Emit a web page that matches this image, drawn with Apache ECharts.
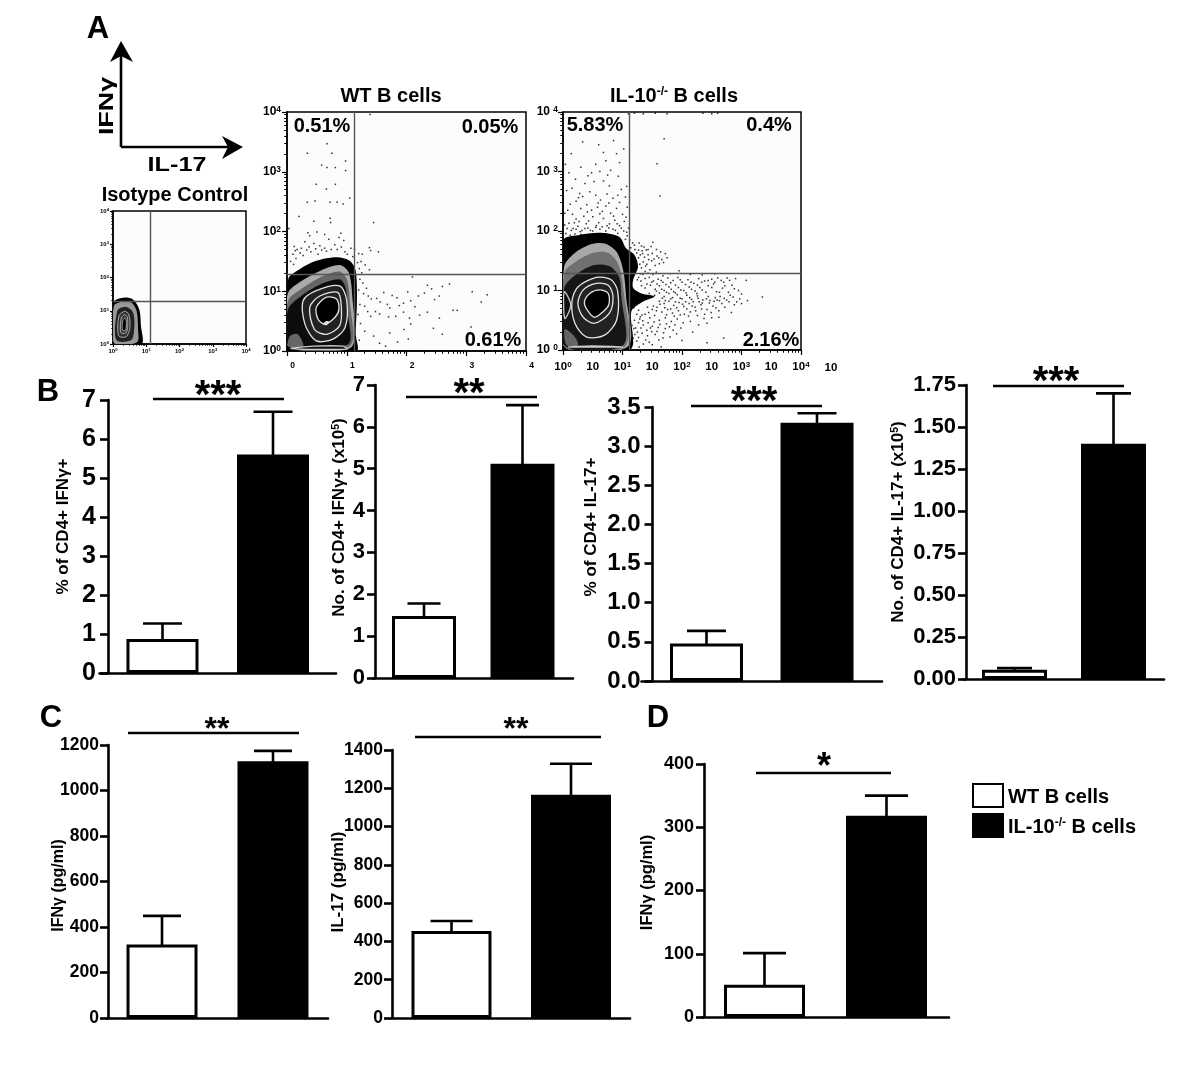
<!DOCTYPE html>
<html><head><meta charset="utf-8">
<style>html,body{margin:0;padding:0;background:#fff}#c{width:1200px;height:1066px}</style>
<script src="https://cdn.jsdelivr.net/npm/echarts@6/dist/echarts.min.js"></script>
</head><body><div id="c"></div>
<script>
// ---------- DATA ----------
const groups = ['WT B cells', 'IL-10-/- B cells'];
const b1Means = [0.87, 5.6],   b1Tops = [1.27, 6.7];
const b2Means = [1.48, 5.12],  b2Tops = [1.78, 6.52];
const b3Means = [0.48, 3.3],   b3Tops = [0.64, 3.42];
const b4Means = [0.055, 1.40], b4Tops = [0.065, 1.70];
const c1Means = [323, 1129],   c1Tops = [449, 1174];
const c2Means = [455, 1166],   c2Tops = [507, 1328];
const dMeans  = [51, 318],     dTops  = [101, 350];

// flow plots, values are log10 (decades) of each channel
const wtGate = [1.12, 1.28], isoGate = [1.11, 1.3], koGate = [1.11, 1.29];
const wtDots = [[1.39,3.96],[.67,3.47],[.34,3.31],[.75,3.31],[.98,3.18],[.58,3.11],[.67,3.07],[.81,3.07],[.98,3.02],[.49,2.79],[.81,2.79],[.66,2.71],[.34,2.49],[.47,2.51],[.72,2.49],[.84,2.49],[.94,2.46],[1.05,2.56],[.2,2.25],[.45,2.17],[.72,2.22],[.73,2.15],[1.45,2.15],[.03,2.05],[.35,1.98],[.38,1.93],[.5,1.99],[.63,1.95],[.7,1.87],[.87,1.9],[.9,1.97],[.95,1.85],[.3,1.83],[.45,1.8],[.55,1.76],[.63,1.72],[.17,1.7],[.12,1.75],[.22,1.64],[.27,1.6],[.4,1.66],[.52,1.62],[.8,1.78],[.84,1.7],[.97,1.66],[1.07,1.72],[.06,1.5],[.11,1.45],[.15,1.55],[1.13,1.7],[1.2,1.63],[1.26,1.62],[1.38,1.73],[1.4,1.68],[1.53,1.66],[1.18,1.48],[1.24,1.5],[1.31,1.44],[1.38,1.36],[1.25,1.31],[1.22,1.2],[1.27,1.14],[1.33,1.05],[1.28,.96],[1.36,.92],[1.41,.87],[1.5,.88],[1.56,.82],[1.62,.98],[1.68,.78],[1.72,.72],[1.76,.93],[1.84,.89],[1.88,.76],[1.95,.8],[2.02,.99],[2.07,.84],[2.14,.74],[2.2,.92],[2.3,.97],[2.35,1.1],[2.42,1.04],[2.47,.86],[2.55,.92],[2.6,1.08],[2.72,1.12],[2.78,.68],[2.85,.68],[3.1,.99],[3.25,.82],[3.35,.94],[2.1,1.24],[1.3,.75],[1.35,.66],[1.4,.58],[1.48,.66],[1.55,.62],[1.7,.57],[1.82,.58],[1.95,.65],[2.05,.55],[2.22,.6],[2.35,.65],[2.55,.55],[2.07,.45],[1.3,.33],[1.45,.25],[1.72,.3],[1.96,.36],[2.03,.2],[3.08,.4],[1.55,.13],[1.65,.08],[1.85,.15],[2.45,.38],[2.6,.28],[.1,1.62],[.14,1.68],[.24,1.72],[.33,1.69],[.37,1.74],[.48,1.71],[.58,1.69],[.66,1.67],[.74,1.7],[.91,1.74],[1.01,1.62],[1.1,1.58],[1.21,1.38],[1.2,1.02],[1.22,.78],[1.19,.61],[1.23,.46],[1.21,.18]];
const koDots = [[1.1,3.97],[1.2,3.98],[1.35,3.97],[1.55,3.98],[1.75,3.97],[2.35,3.98],[2.5,3.97],[2.6,3.98],[1.7,3.55],[1.58,3.13],[1.63,2.59],[.33,3.5],[.6,3.45],[.68,3.32],[.85,3.52],[.9,3.3],[.14,3.3],[.55,3.12],[.72,3.18],[.95,3.15],[1.02,3.38],[.04,3.12],[.1,2.98],[.3,3.07],[.48,2.98],[.62,3.0],[.8,3.02],[.93,2.92],[.21,2.87],[.37,2.8],[.52,2.83],[.68,2.84],[.78,2.76],[.98,2.7],[1.07,2.75],[.06,2.68],[.15,2.72],[.28,2.63],[.33,2.58],[.45,2.66],[.55,2.6],[.63,2.52],[.74,2.62],[.84,2.55],[.95,2.48],[1.05,2.57],[.12,2.45],[.22,2.5],[.3,2.38],[.4,2.44],[.48,2.35],[.58,2.4],[.66,2.33],[.72,2.42],[.8,2.3],[.9,2.38],[1.0,2.28],[1.08,2.4],[.03,2.3],[.08,2.35],[.16,2.28],[.22,2.2],[.35,2.25],[.43,2.17],[.5,2.24],[.6,2.14],[.68,2.21],[.78,2.12],[.87,2.18],[.95,2.09],[1.03,2.16],[1.1,2.05],[.03,2.1],[.1,2.13],[.17,2.04],[.25,2.08],[.32,2.01],[.42,2.05],[.5,2.0],[.62,2.03],[.72,2.0],[.84,2.03],[.92,1.96],[1.02,2.0],[.05,1.96],[.12,1.93],[.2,1.95],[.3,1.94],[1.08,1.92],[1.12,1.85],[1.05,1.86],[1.17,1.8],[1.14,1.72],[1.2,1.76],[1.28,1.8],[1.36,1.73],[1.27,1.68],[1.33,1.67],[1.4,1.68],[1.48,1.74],[1.57,1.69],[1.64,1.65],[1.72,1.62],[1.75,1.55],[1.66,1.52],[1.58,1.58],[1.5,1.62],[1.43,1.6],[1.37,1.56],[1.3,1.6],[1.35,1.48],[1.41,1.44],[1.49,1.5],[1.55,1.42],[1.62,1.45],[1.32,1.38],[1.38,1.32],[1.46,1.35],[1.3,1.28],[1.25,1.18],[1.31,1.16],[1.38,1.2],[1.45,1.22],[1.52,1.16],[1.6,1.19],[1.68,1.14],[1.76,1.21],[1.85,1.17],[1.93,1.22],[2.0,1.14],[2.1,1.18],[2.2,1.12],[2.28,1.2],[2.38,1.16],[2.5,1.19],[2.6,1.21],[2.7,1.14],[2.8,1.17],[2.9,1.2],[3.08,1.17],[1.32,1.08],[1.38,1.04],[1.47,1.09],[1.55,1.02],[1.62,1.08],[1.7,1.0],[1.78,1.06],[1.86,.98],[1.94,1.05],[2.03,1],[2.12,1.06],[2.22,.99],[2.3,1.05],[2.4,.97],[2.5,1.05],[2.58,.98],[2.68,1.04],[2.78,.97],[2.88,1.03],[3.0,.94],[1.45,.95],[1.54,.92],[1.62,.96],[1.7,.9],[1.78,.95],[1.84,.88],[1.92,.93],[2,.86],[2.08,.92],[2.16,.85],[2.26,.91],[2.35,.84],[2.44,.9],[2.54,.82],[2.64,.9],[2.75,.84],[2.86,.89],[2.97,.86],[3.1,.83],[3.35,.89],[1.62,.82],[1.7,.78],[1.78,.82],[1.86,.75],[1.95,.8],[2.03,.73],[2.12,.78],[2.22,.72],[2.32,.76],[2.42,.68],[2.52,.74],[2.62,.66],[2.72,.72],[2.88,.76],[3.0,.78],[1.42,.72],[1.5,.68],[1.58,.72],[1.66,.64],[1.76,.68],[1.84,.62],[1.94,.66],[2.04,.6],[2.14,.64],[2.26,.58],[2.38,.6],[2.5,.54],[2.62,.55],[1.24,.6],[1.3,.56],[1.38,.6],[1.46,.54],[1.54,.58],[1.62,.5],[1.72,.54],[1.82,.48],[1.92,.52],[2.02,.46],[2.14,.48],[2.28,.42],[2.42,.45],[1.2,.5],[1.27,.46],[1.35,.42],[1.43,.46],[1.5,.4],[1.6,.38],[1.72,.36],[1.85,.33],[1.98,.37],[2.18,.3],[1.19,.36],[1.25,.3],[1.33,.28],[1.42,.24],[1.55,.26],[1.68,.2],[1.8,.22],[2.0,.16],[2.42,.12],[2.7,.2],[1.18,.2],[1.24,.15],[1.35,.1],[1.28,.05],[1.5,.09],[1.65,.05]];
const koDotsDense = [[1.16,.41],[1.22,.37],[1.29,.52],[1.34,.49],[1.41,.33],[1.47,.37],[1.53,.47],[1.58,.31],[1.63,.43],[1.69,.29],[1.16,.13],[1.21,.26],[1.27,.21],[1.31,.37],[1.39,.17],[1.45,.13],[1.49,.31],[1.61,.17],[1.74,.44],[1.79,.39],[1.88,.42],[1.91,.27],[1.19,.71],[1.27,.67],[1.33,.59],[1.44,.63],[1.52,.74],[1.57,.66],[1.63,.77],[1.71,.71],[1.74,.59],[1.81,.69],[1.87,.57],[1.91,.71],[1.97,.59],[2.01,.77],[2.08,.69],[2.11,.57],[2.17,.74],[2.23,.66],[2.29,.81],[2.33,.69],[2.37,.53],[2.46,.79],[2.49,.63],[2.57,.71],[2.59,.84],[2.67,.78],[2.79,.81],[2.83,.63],[1.67,.87],[1.72,.83],[1.81,.86],[1.89,.81],[1.97,.87],[2.06,.81],[2.13,.88],[2.19,.81],[2.27,.87],[2.34,.79],[2.41,.86],[2.47,.83],[2.56,.88],[2.63,.83],[2.71,.87],[2.81,.92],[2.92,.81],[1.57,.99],[1.66,1.02],[1.74,.97],[1.82,1.02],[1.89,.96],[1.98,1.01],[2.07,.96],[2.16,1.02],[2.25,.95],[2.34,1.01],[2.44,1.08],[2.53,1.11],[2.63,.97],[2.72,1.08],[2.84,1.09],[2.95,1.0],[1.41,1.11],[1.49,1.14],[1.58,1.11],[1.65,1.17],[1.73,1.1],[1.81,1.13],[1.89,1.09],[1.97,1.18],[2.06,1.1],[2.15,1.14],[2.26,1.09],[2.33,1.14],[2.44,1.17],[2.55,1.14],[2.66,1.17],[2.76,1.21],[1.27,1.22],[1.34,1.27],[1.43,1.29],[1.51,1.27],[1.57,1.31],[1.68,1.25],[1.8,1.28],[1.95,1.33],[2.14,1.27],[2.34,1.26],[2.55,1.28],[1.24,1.38],[1.29,1.44],[1.39,1.41],[1.44,1.52],[1.53,1.53],[1.61,1.55],[1.69,1.47],[1.27,1.55],[1.34,1.62],[1.43,1.69],[1.51,1.81],[1.24,1.63],[1.21,1.69],[1.32,1.75],[.07,2.04],[.14,2.01],[.22,2.03],[.29,1.99],[.37,2.04],[.46,2.01],[.55,2.06],[.66,2.07],[.77,2.05],[.88,2.01],[.98,2.05],[1.07,1.98],[.19,2.14],[.27,2.16],[.39,2.12],[.56,2.09],[.74,2.09],[.91,2.12],[1.06,2.23],[.41,2.32],[.62,2.29],[.85,2.25],[.26,2.56],[.59,2.47],[.77,2.47],[.92,2.6],[.42,2.93],[.75,2.94]];

// contour layers: outline points, then a fill and a ring colour for each layer
const wtContours = [
 [[.02,0],[.02,1.2],[.21,1.37],[.49,1.51],[.83,1.57],[1.05,1.51],[1.15,1.34],[1.17,.84],[1.15,.28],[1.16,0]],
 [[.02,.73],[.02,.98],[.21,1.15],[.55,1.34],[.88,1.44],[1.03,1.32],[1.09,.95],[1.09,.08],[.49,.08]],
 [[.02,.84],[.27,1.06],[.57,1.24],[.88,1.33],[1,1.2],[1.05,.84],[1.05,.08],[.02,.08]],
 [[.02,.7],[.24,.92],[.57,1.12],[.88,1.2],[.98,1.06],[1.02,.62],[1.02,.11],[.02,.11]],
 [[.02,.08],[.05,.25],[.18,.28],[.27,.08]],
 [[.07,.04],[.44,.08],[.94,.08],[1,.03]],
 [[.27,.84],[.49,1.01],[.88,1.09],[1,.84],[.97,.39],[.77,.2],[.49,.17],[.3,.45]],
 [[.38,.73],[.55,.92],[.85,.98],[.91,.73],[.88,.42],[.66,.28],[.46,.36]],
 [[.49,.73],[.66,.9],[.83,.87],[.87,.7],[.8,.56],[.63,.45],[.52,.53]],
 [[.6,.45],[.65,.5],[.71,.49],[.66,.43]]
];
const wtFills   = ['#000','#aaa','#666','#0c0c0c','#666','#111','#222','#222','#000','#ddd'];
const wtStrokes = [null,null,null,null,null,'#ccc','#e4e4e4','#e4e4e4','#e4e4e4',null];
const isoContours = [
 [[0,0],[0,1.24],[.3,1.39],[.6,1.34],[.79,1.04],[.84,.54],[.86,0]],
 [[.03,.04],[.03,1.15],[.3,1.28],[.55,1.25],[.71,1],[.75,.5],[.72,.05]],
 [[.1,.12],[.13,1],[.35,1.12],[.52,1.05],[.62,.9],[.64,.5],[.55,.12]],
 [[.17,.25],[.18,.85],[.35,.98],[.47,.9],[.51,.5],[.4,.22]],
 [[.23,.35],[.25,.78],[.35,.88],[.43,.8],[.44,.5],[.38,.33]],
 [[.28,.42],[.3,.72],[.37,.78],[.4,.68],[.38,.42]]
];
const isoFills   = ['#000','#999','#222','#333','#333','#000'];
const isoStrokes = [null,null,null,'#ddd','#ddd','#ddd'];
const koContours = [
 [[.02,.01],[.01,1.85],[.25,1.93],[.64,1.97],[.95,1.9],[1.06,1.71],[1.2,1.6],[1.26,1.4],[1.18,1.18],[1.18,1.04],[1.32,.95],[1.54,.9],[1.34,.81],[1.15,.65],[1.13,.01]],
 [[.02,1.4],[.2,1.63],[.48,1.78],[.7,1.79],[.9,1.65],[1.01,1.35],[1.06,.9],[1.09,.06],[.02,.06]],
 [[.02,1.29],[.25,1.51],[.53,1.64],[.76,1.63],[.92,1.46],[1.01,1.06],[1.04,.06],[.02,.06]],
 [[.02,1.04],[.25,1.29],[.53,1.43],[.78,1.41],[.94,1.23],[.98,.9],[1.01,.08],[.02,.08]],
 [[.06,.08],[.03,.35],[.2,.22],[.25,.08]],
 [[.1,.05],[.5,.07],[1,.05]],
 [[.02,.98],[.13,.76],[.03,.53]],
 [[.15,.81],[.25,1.06],[.56,1.22],[.81,1.18],[.92,.98],[.9,.5],[.7,.25],[.39,.22],[.2,.45]],
 [[.25,.78],[.34,1.01],[.56,1.12],[.76,1.09],[.84,.9],[.78,.62],[.53,.45],[.34,.55]],
 [[.36,.81],[.45,.95],[.62,1.01],[.76,.95],[.77,.76],[.67,.64],[.53,.55],[.41,.67]]
];
const koFills   = ['#000','#a8a8a8','#707070','#161616','#666','#111','#111','#222','#222','#000'];
const koStrokes = [null,null,null,null,null,'#ccc','#ccc','#e4e4e4','#e4e4e4','#e4e4e4'];

const koXLabelValues = [0,.5,1,1.5,2,2.5,3,3.5,4];
const minorDecades = [.301,.477,.602,.699,.778,.845,.903,.954];

// ---------- LAYOUT ----------
const FONT = '"Liberation Sans", Arial, sans-serif';
const minors = [0,1,2,3].flatMap(d => minorDecades.map(m => d + m));

const grids = [], xAxes = [], yAxes = [], series = [];
const supRich = size => ({ s: { fontSize: size, fontWeight: 'bold', fontFamily: FONT, verticalAlign: 'top', padding:[0,0,size*0.45,0] } });

function flowPanel(o) {
  const g = grids.length;
  grids.push({ left:o.left, top:o.top, width:o.size, height:o.size, show:true, backgroundColor:'#fcfcfc', borderColor:'#000', borderWidth:1.5, containLabel:false });
  const common = { type:'value', min:0, max:4, gridIndex:g, splitLine:{show:false} };
  const lineS = { show:true, onZero:false, lineStyle:{color:'#000', width:1.5} };
  const ix = xAxes.length, iy = yAxes.length;
  xAxes.push({ ...common, position:'bottom', interval:1, axisLine:lineS,
    axisTick:{ show:true, length:o.tick, lineStyle:{color:'#000',width:1.2} },
    axisLabel:{ show:true, showMinLabel:true, showMaxLabel:true, fontFamily:FONT, fontWeight:'bold', fontSize:o.xFont, color:'#000', margin:o.xMargin, hideOverlap:false,
      padding:o.xPad||0, ...(o.xCustom?{customValues:o.xCustom}:{}), rich:supRich(o.xFont*0.7),
      formatter:o.xFmt } });
  xAxes.push({ ...common, position:'bottom', axisLine:{show:false}, axisLabel:{show:false},
    axisTick:{ show:true, customValues:minors, length:o.tick*0.55, lineStyle:{color:'#000',width:1} } });
  yAxes.push({ ...common, position:'left', interval:1, axisLine:lineS,
    axisTick:{ show:true, length:o.tick, lineStyle:{color:'#000',width:1.2} },
    axisLabel:{ show:true, showMinLabel:true, showMaxLabel:true, fontFamily:FONT, fontWeight:'bold', fontSize:o.yFont, color:'#000', margin:o.yMargin, hideOverlap:false, rich:supRich(o.yFont*0.7),
      formatter:o.yFmt } });
  yAxes.push({ ...common, position:'left', axisLine:{show:false}, axisLabel:{show:false},
    axisTick:{ show:true, customValues:minors, length:o.tick*0.55, lineStyle:{color:'#000',width:1} } });
  // density contours
  series.push({ type:'custom', xAxisIndex:ix, yAxisIndex:iy, silent:true, animation:false, z:3, clip:true,
    data:o.contours.map((_, i) => [i, 0]), encode:{x:-1,y:-1},
    renderItem:(p, api) => ({ type:'polygon',
      shape:{ points:o.contours[p.dataIndex].map(pt => api.coord(pt)), smooth:0.3 },
      style:{ fill:o.fills[p.dataIndex], stroke:o.strokes[p.dataIndex]||null, lineWidth:o.ring } }) });
  // events
  series.push({ type:'scatter', xAxisIndex:ix, yAxisIndex:iy, silent:true, animation:false, z:2, symbol:'rect', symbolSize:1.5,
    itemStyle:{color:'#000'}, data:o.dots,
    markLine:{ silent:true, symbol:'none', animation:false, z:6, label:{show:false}, lineStyle:{color:'#555', width:1.4, type:'solid'},
      data:[{xAxis:o.gate[0]},{yAxis:o.gate[1]}] } });
}

const pow10 = v => '10{s|' + v + '}';
flowPanel({ left:113, top:211, size:133, tick:3, xFont:6, yFont:6, xMargin:4, yMargin:4, ring:.7, xFmt:pow10, yFmt:pow10, contours:isoContours, fills:isoFills, strokes:isoStrokes, dots:[], gate:isoGate });
flowPanel({ left:287, top:112, size:239, tick:5, xFont:8.5, yFont:12, xMargin:10, yMargin:6, ring:1.3, xPad:[0,0,0,11], xFmt:v=>String(v), yFmt:pow10, contours:wtContours, fills:wtFills, strokes:wtStrokes, dots:wtDots, gate:wtGate });
flowPanel({ left:563, top:112, size:238, tick:5, xFont:11.5, yFont:12, xMargin:11, yMargin:5, ring:1.3, xCustom:koXLabelValues, xFmt:v=>Number.isInteger(v)?pow10(v):'10', yFmt:v=>'10 {s|'+v+'}', contours:koContours, fills:koFills, strokes:koStrokes, dots:koDots.concat(koDotsDense), gate:koGate });

const errSeries = (ix, iy, val, dx, cap) => ({ type:'custom', xAxisIndex:ix, yAxisIndex:iy, silent:true, animation:false, z:4,
  data:[[0, val[0], val[1]]], encode:{x:0,y:[1,2]},
  renderItem:(p, api) => {
    const a = api.coord([0, api.value(1)]), b = api.coord([0, api.value(2)]);
    const x = a[0] + dx;
    return { type:'group', children:[
      { type:'line', shape:{x1:x,y1:a[1]+2,x2:x,y2:b[1]}, style:{stroke:'#000',lineWidth:2.6} },
      { type:'line', shape:{x1:x-cap/2,y1:b[1],x2:x+cap/2,y2:b[1]}, style:{stroke:'#000',lineWidth:2.6} } ] };
  } });

function barPanel(o) {
  const c = (o.wc + o.bc) / 2, G = 2 * c - o.end, g = grids.length;
  const w = o.barW - 3, gap = (o.bc - o.wc) - w;
  grids.push({ left:G, width:o.end - G, top:o.top, height:o.y0 - o.top, containLabel:false });
  const ix = xAxes.length, iy = yAxes.length;
  xAxes.push({ type:'category', gridIndex:g, data:[''], axisTick:{show:false}, axisLabel:{show:false},
    axisLine:{show:true, lineStyle:{color:'#000',width:2.6}} });
  yAxes.push({ type:'value', gridIndex:g, min:0, max:o.max, interval:o.step, offset:-(o.axisX - G), splitLine:{show:false},
    axisLine:{show:true, onZero:false, lineStyle:{color:'#000',width:2.6}},
    axisTick:{show:true, length:8, lineStyle:{color:'#000',width:2.6}},
    axisLabel:{ show:true, showMinLabel:true, showMaxLabel:true, hideOverlap:false, margin:o.margin||11, color:'#000', fontFamily:FONT, fontWeight:'bold', fontSize:o.fs, formatter:o.fmt||(v=>String(v)) },
    name:o.name, nameLocation:'middle', nameGap:o.nameGap, nameRotate:90, nameMoveOverlap:false,
    nameTextStyle:{ color:'#000', fontFamily:FONT, fontWeight:'bold', fontSize:o.nameFs, padding:o.namePad||0, rich:{ s:{fontSize:o.nameFs*0.62, fontWeight:'bold', fontFamily:FONT, verticalAlign:'top', padding:[0,0,5,0]} } } });
  const barBase = { type:'bar', xAxisIndex:ix, yAxisIndex:iy, barWidth:w, barGap:(gap / w * 100).toFixed(1) + '%', animation:false, silent:true };
  series.push({ ...barBase, name:groups[0], data:[o.means[0]], itemStyle:{color:'#fff', borderColor:'#000', borderWidth:3} });
  series.push({ ...barBase, name:groups[1], data:[o.means[1]], itemStyle:{color:'#000', borderColor:'#000', borderWidth:3} });
  series.push(errSeries(ix, iy, [o.means[0], o.tops[0]], -(o.bc - o.wc) / 2, o.cap));
  series.push(errSeries(ix, iy, [o.means[1], o.tops[1]], (o.bc - o.wc) / 2, o.cap));
}

const f2 = v => v.toFixed(2), f1 = v => v.toFixed(1);
barPanel({ axisX:108, end:336, wc:162.5, bc:273, barW:75, cap:39, y0:673, top:400, max:7, step:1, fs:25, margin:12, means:b1Means, tops:b1Tops, name:'% of CD4+ IFNγ+', nameFs:17, nameGap:36, namePad:[0,0,0,20] });
barPanel({ axisX:375, end:573, wc:424, bc:522.5, barW:67, cap:33, y0:678, top:385, max:7, step:1, fs:22, margin:10, means:b2Means, tops:b2Tops, name:'No. of CD4+ IFNγ+ (x10{s|5})', nameFs:17, nameGap:27, namePad:[0,0,0,28] });
barPanel({ axisX:652.5, end:882, wc:706.5, bc:817, barW:76, cap:39, y0:681, top:407, max:3.5, step:.5, fs:24, margin:12, fmt:f1, means:b3Means, tops:b3Tops, name:'% of CD4+ IL-17+', nameFs:17, nameGap:53, namePad:[0,0,0,34] });
barPanel({ axisX:966, end:1164, wc:1014.5, bc:1113.5, barW:68, cap:35, y0:679, top:385, max:1.75, step:.25, fs:22, margin:10, fmt:f2, means:b4Means, tops:b4Tops, name:'No. of CD4+ IL-17+ (x10{s|5})', nameFs:17, nameGap:59, namePad:[0,0,0,20] });
barPanel({ axisX:108, end:328, wc:162, bc:273, barW:74, cap:38, y0:1018, top:745, max:1200, step:200, fs:17.5, margin:9, means:c1Means, tops:c1Tops, name:'IFNγ (pg/ml)', nameFs:16, nameGap:41, namePad:[0,8,0,0] });
barPanel({ axisX:392, end:630, wc:451.5, bc:571, barW:83, cap:42, y0:1018, top:750, max:1400, step:200, fs:17.5, margin:9, means:c2Means, tops:c2Tops, name:'IL-17 (pg/ml)', nameFs:17, nameGap:45, namePad:[0,0,0,4] });
barPanel({ axisX:704, end:949, wc:764.5, bc:886.5, barW:84, cap:43, y0:1017, top:764, max:400, step:100, fs:18, margin:10, means:dMeans, tops:dTops, name:'IFNγ (pg/ml)', nameFs:16.5, nameGap:48, namePad:[0,0,0,16] });

// annotations
const T = (text, x, y, size, extra, props) => ({ type:'text', x, y, silent:true, z:20, ...(props||{}), style:{ text, fill:'#000', font:'bold '+size+'px '+FONT, textAlign:'center', textVerticalAlign:'middle', ...(extra||{}) } });
const sig = (x1, x2, y, starsX, starsY, stars, size) => [
  { type:'line', silent:true, z:20, shape:{x1,y1:y,x2,y2:y}, style:{stroke:'#000',lineWidth:2.6} },
  T(stars, starsX, starsY - size * 0.35, size, {textVerticalAlign:'top'}) ];
const supT = { s:{ fontSize:12, fontWeight:'bold', fontFamily:FONT, verticalAlign:'top', padding:[0,0,8,0] } };
const graphics = [
  T('A', 98, 29, 31), T('B', 48, 392, 31), T('C', 51, 718, 31), T('D', 658, 718, 31),
  ...sig(153,284,399,218,391,'***',40), ...sig(406,537,397,469,389,'**',40), ...sig(691,822,406,754,397,'***',40),
  ...sig(993,1124,386,1056,377,'***',40), ...sig(128,299,733,217,725,'**',32), ...sig(415,601,737,516,725,'**',32), ...sig(756,891,773,824,763,'*',36),
  // axis key
  { type:'line', silent:true, shape:{x1:121,y1:147,x2:121,y2:55}, style:{stroke:'#000',lineWidth:2.6} },
  { type:'line', silent:true, shape:{x1:121,y1:147,x2:230,y2:147}, style:{stroke:'#000',lineWidth:2.6} },
  { type:'polygon', silent:true, shape:{points:[[121,41],[133,62],[121,56],[110,62]]}, style:{fill:'#000'} },
  { type:'polygon', silent:true, shape:{points:[[243,147],[222,159],[228,147],[222,136]]}, style:{fill:'#000'} },
  T('IFNγ', 107, 106, 21, null, { rotation:Math.PI/2, scaleX:1.28 }),
  T('IL-17', 177, 165, 21, null, { scaleX:1.2 }),
  T('Isotype Control', 175, 195, 20),
  T('WT B cells', 391, 96, 20),
  T('IL-10{s|-/-} B cells', 674, 96, 20, { rich:supT }),
  T('0.51%', 322, 126, 20), T('0.05%', 490, 127, 20), T('0.61%', 493, 340, 20),
  T('5.83%', 595, 125, 20), T('0.4%', 769, 125, 20), T('2.16%', 771, 340, 20),
  T('10', 831, 368, 11.5)
];

const chart = echarts.init(document.getElementById('c'), null, { renderer:'canvas' });
chart.setOption({
  animation:false, backgroundColor:'#fff', tooltip:{show:false},
  grid:grids, xAxis:xAxes, yAxis:yAxes, series,
  graphic:{ elements:graphics },
  legend:{ show:true, data:groups, orient:'vertical', left:972, top:783, itemWidth:30, itemHeight:23, itemGap:5, selectedMode:false, icon:'rect', padding:0,
    formatter:n => n.indexOf('IL') === 0 ? 'IL-10{s|-/-} B cells' : n,
    textStyle:{ color:'#000', fontFamily:FONT, fontWeight:'bold', fontSize:20, padding:[3,0,0,0], rich:supT } }
});
</script></body></html>
